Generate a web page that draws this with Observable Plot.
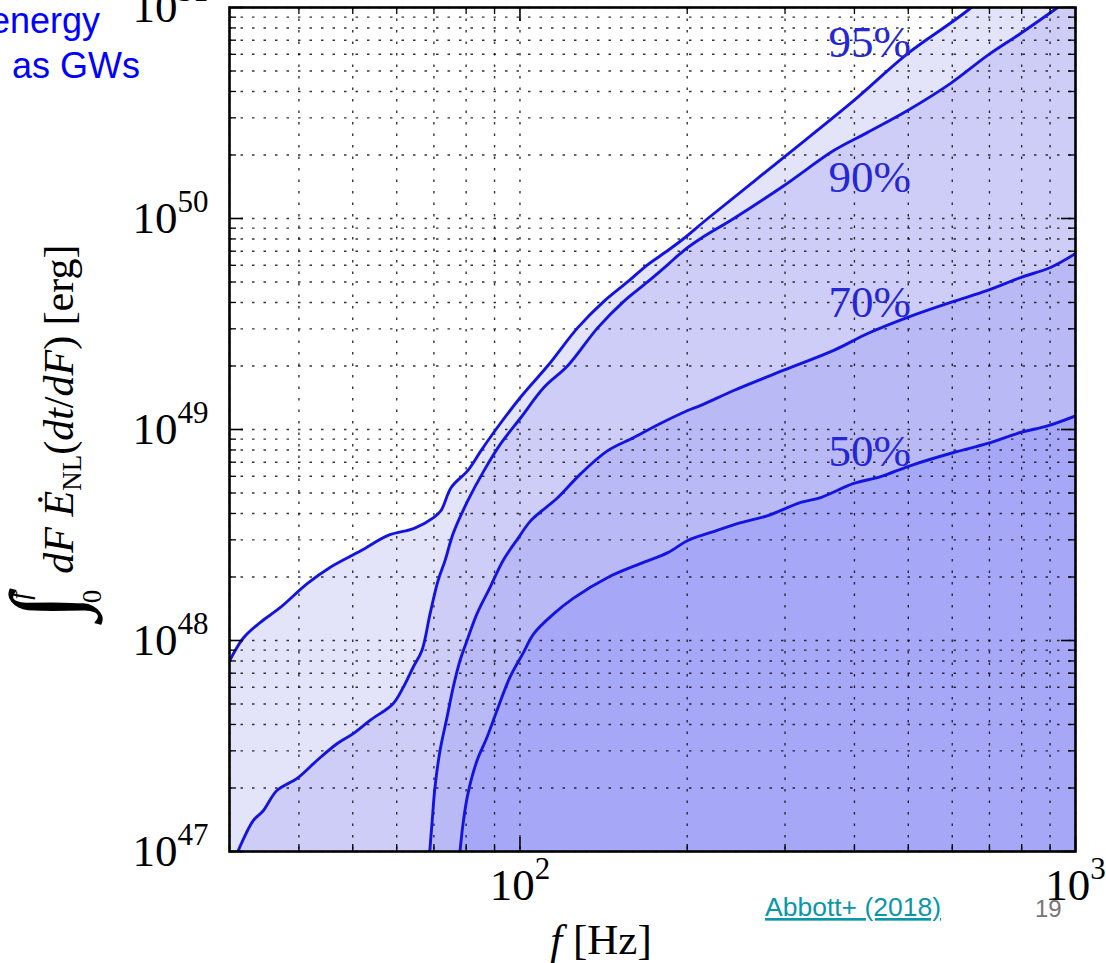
<!DOCTYPE html>
<html><head><meta charset="utf-8">
<script src="https://cdn.jsdelivr.net/npm/d3@7"></script>
<script src="https://cdn.jsdelivr.net/npm/@observablehq/plot@0.6"></script>
<style>
html,body{margin:0;padding:0;background:#fff;}
#chart{position:relative;width:1106px;height:963px;overflow:hidden;background:#fff;}
</style></head><body><div id="chart"></div>
<script>
// ---- data (f in Hz, E in erg) ----
const f95 = [30, 31.8, 34.1, 37.0, 41.4, 45.5, 51.8, 57.9, 64.5, 70.0, 72.1, 75.2, 80.6, 85.1, 90.5, 100.4, 112.3, 127.1, 141.6, 156.4, 169.9, 184.6, 197.2, 217.8, 298.5, 398.8, 498.7, 639.4, 1000];
const e95 = [8.0e47, 1.03e48, 1.22e48, 1.43e48, 1.86e48, 2.22e48, 2.67e48, 3.15e48, 3.40e48, 3.83e48, 4.13e48, 5.31e48, 6.40e48, 7.94e48, 1.0e49, 1.43e49, 2.01e49, 3.04e49, 4.05e49, 5.02e49, 6.05e49, 7.05e49, 8.04e49, 1.0e50, 1.95e50, 3.62e50, 6.05e50, 9.68e50, 2.6e51];

const f90 = [30.7, 33.1, 34.5, 36.55, 39.7, 43.1, 46.9, 50.1, 53.7, 59.1, 61.6, 64.2, 66.6, 68.9, 71.2, 73.3, 75.8, 80.6, 86.2, 92.4, 100.4, 110.4, 122.0, 138.1, 153.8, 169.9, 184.6, 197.2, 211.6, 242.6, 298.5, 367.1, 422.6, 498.7, 596, 694.7, 796.2, 912.9, 1000];
const e90 = [9.3e46, 1.40e47, 1.56e47, 1.95e47, 2.22e47, 2.70e47, 3.25e47, 3.62e47, 4.18e47, 5.02e47, 5.98e47, 7.45e47, 8.97e47, 1.34e48, 1.92e48, 2.39e48, 3.21e48, 4.61e48, 6.40e48, 8.59e48, 1.14e49, 1.58e49, 2.01e49, 3.04e49, 4.05e49, 5.02e49, 6.05e49, 7.05e49, 8.04e49, 1.0e50, 1.43e50, 2.10e50, 2.56e50, 3.25e50, 4.37e50, 5.93e50, 7.53e50, 9.68e50, 1.15e51];

const f70 = [68.6, 69.5, 70.3, 71.8, 73.9, 75.8, 78.0, 80.3, 83.7, 88.3, 93.2, 99.2, 104.7, 117.0, 128.7, 143.9, 160.3, 179.3, 200.5, 211.6, 242.6, 298.5, 367.1, 422.6, 498.7, 596, 694.7, 796.2, 901.6, 1000];
const e70 = [9.06e46, 1.40e47, 2.01e47, 3.01e47, 4.32e47, 5.98e47, 8.04e47, 1.0e48, 1.34e48, 1.78e48, 2.39e48, 3.05e48, 3.71e48, 4.76e48, 6.18e48, 7.94e48, 9.16e48, 1.07e49, 1.23e49, 1.30e49, 1.53e49, 1.91e49, 2.37e49, 2.85e49, 3.40e49, 4.00e49, 4.56e49, 5.25e49, 5.86e49, 6.82e49];

const f50 = [77.7, 79.0, 80.6, 83.7, 87.2, 90.9, 95.9, 101.2, 106.0, 115.1, 124.5, 143.9, 165.1, 184.6, 200.5, 220.6, 249.7, 279.3, 320.2, 347.8, 398.8, 446.0, 505, 603.5, 694.7, 796.2, 890.5, 1000];
const e50 = [9.06e46, 1.36e47, 1.88e47, 2.70e47, 3.47e47, 4.66e47, 6.68e47, 8.67e47, 1.08e48, 1.34e48, 1.58e48, 1.99e48, 2.32e48, 2.61e48, 2.98e48, 3.25e48, 3.62e48, 3.91e48, 4.51e48, 4.76e48, 5.55e48, 5.98e48, 6.75e48, 7.78e48, 8.59e48, 9.68e48, 1.04e49, 1.16e49];

const labelText = ["95%", "90%", "70%", "50%"];
const labelF = [426, 426, 426, 426];
const labelE = [6.8e50, 1.56e50, 4.0e49, 7.9e48];

const xMajor = [100, 1000];
const xTickExp = ["2", "3"];
const xMinor = [30, 40, 50, 60, 70, 80, 90, 200, 300, 400, 500, 600, 700, 800, 900];
const yMajor = [1e47, 1e48, 1e49, 1e50, 1e51];
const yTickExp = ["47", "48", "49", "50", "51"];
const yMinor = [2e47,3e47,4e47,5e47,6e47,7e47,8e47,9e47, 2e48,3e48,4e48,5e48,6e48,7e48,8e48,9e48, 2e49,3e49,4e49,5e49,6e49,7e49,8e49,9e49, 2e50,3e50,4e50,5e50,6e50,7e50,8e50,9e50];

// ---- styles ----
const C95 = "#e3e3fa", C90 = "#cdcdf8", C70 = "#b9b9f6", C50 = "#a7a7f7";
const LINE = "#1414e0", LABEL = "#2626d4";
const W = 1106, H = 963, ML = 229, MR = 31, MT = 7, MB = 112;
const FW = W - ML - MR, FH = H - MT - MB;
const SERIF = "'Liberation Serif', 'Times New Roman', serif";

const rows = (fs, es) => fs.map((f, i) => ({f, E: es[i]}));
const r95 = rows(f95, e95), r90 = rows(f90, e90), r70 = rows(f70, e70), r50 = rows(f50, e50);
const grid = {stroke: "#111", strokeDasharray: "2.5,9", strokeWidth: 1.4, strokeOpacity: 0.85};
const lineOpts = {x: "f", y: "E", stroke: LINE, strokeWidth: 2.9, clip: true, curve: "catmull-rom"};

const plot = Plot.plot({
  width: W, height: H,
  marginLeft: ML, marginRight: MR, marginTop: MT, marginBottom: MB,
  style: {fontFamily: SERIF, background: "#fff", overflow: "visible"},
  x: {type: "log", domain: [30, 1000]},
  y: {type: "log", domain: [1e47, 1e51]},
  marks: [
    Plot.areaY(r95, {x: "f", y1: 1e46, y2: "E", fill: C95, clip: true, curve: "catmull-rom"}),
    Plot.areaY(r90, {x: "f", y1: 1e46, y2: "E", fill: C90, clip: true, curve: "catmull-rom"}),
    Plot.areaY(r70, {x: "f", y1: 1e46, y2: "E", fill: C70, clip: true, curve: "catmull-rom"}),
    Plot.areaY(r50, {x: "f", y1: 1e46, y2: "E", fill: C50, clip: true, curve: "catmull-rom"}),
    Plot.ruleX(xMinor.concat(xMajor), grid),
    Plot.ruleY(yMinor.concat(yMajor), grid),
    Plot.line(r95, lineOpts),
    Plot.line(r90, lineOpts),
    Plot.line(r70, lineOpts),
    Plot.line(r50, lineOpts),
    Plot.text(labelText, {x: labelF, y: labelE, text: d => d, fill: LABEL, fontSize: 45, fontFamily: SERIF}),
    // inward ticks on all four sides
    Plot.tickX(xMajor, {insetTop: FH - 14, stroke: "#000", strokeWidth: 1.6}),
    Plot.tickX(xMajor, {insetBottom: FH - 14, stroke: "#000", strokeWidth: 1.6}),
    Plot.tickX(xMinor, {insetTop: FH - 7, stroke: "#000", strokeWidth: 1.3}),
    Plot.tickX(xMinor, {insetBottom: FH - 7, stroke: "#000", strokeWidth: 1.3}),
    Plot.tickY(yMajor, {insetRight: FW - 14, stroke: "#000", strokeWidth: 1.6}),
    Plot.tickY(yMajor, {insetLeft: FW - 14, stroke: "#000", strokeWidth: 1.6}),
    Plot.tickY(yMinor, {insetRight: FW - 7, stroke: "#000", strokeWidth: 1.3}),
    Plot.tickY(yMinor, {insetLeft: FW - 7, stroke: "#000", strokeWidth: 1.3}),
    Plot.frame({stroke: "#000", strokeWidth: 2.6}),
    Plot.axisX(xMajor, {tickSize: 0, tickPadding: 17, fontSize: 45, fontFamily: SERIF, label: null,
      tickFormat: d => "10^" + xTickExp[xMajor.indexOf(d)]}),
    Plot.axisY(yMajor, {tickSize: 0, tickPadding: 21, fontSize: 45, fontFamily: SERIF, label: null,
      tickFormat: d => "10^" + yTickExp[yMajor.indexOf(d)]})
  ]
});
document.getElementById("chart").appendChild(plot);
const svg = d3.select(plot);

// superscript exponents on tick labels
svg.selectAll("text").filter(function () { return /^10\^\d+$/.test(this.textContent); }).each(function () {
  const [b, e] = this.textContent.split("^");
  const t = d3.select(this);
  t.text(null);
  t.append("tspan").text(b);
  t.append("tspan").attr("font-size", 31).attr("dy", -21).text(e);
});

// y-axis label (math)
const yl = svg.append("text")
  .attr("transform", "translate(73,432) rotate(-90)")
  .attr("text-anchor", "middle")
  .attr("font-family", SERIF).attr("font-size", 42).attr("fill", "#000");
yl.append("tspan").attr("font-size", 96).attr("dy", 4).text("∫");
yl.append("tspan").attr("font-size", 27).attr("dx", -10).attr("dy", 24).text("0");
yl.append("tspan").attr("font-size", 27).attr("font-style", "italic").attr("dx", -10).attr("dy", -72).text("f");
yl.append("tspan").attr("font-style", "italic").attr("dx", 8).attr("dy", 44).text(" dF ");
yl.append("tspan").attr("font-style", "italic").text("Ė");
yl.append("tspan").attr("font-size", 27).attr("dy", 8).text("NL");
yl.append("tspan").attr("dy", -8).text("(");
yl.append("tspan").attr("font-style", "italic").text("dt");
yl.append("tspan").text("/");
yl.append("tspan").attr("font-style", "italic").text("dF");
yl.append("tspan").text(") [erg]");

// x-axis label
const xl = svg.append("text").attr("x", 601).attr("y", 954).attr("text-anchor", "middle")
  .attr("font-family", SERIF).attr("font-size", 43).attr("fill", "#000");
xl.append("tspan").attr("font-style", "italic").text("f");
xl.append("tspan").text(" [Hz]");

// slide texts
const SANS = "'Liberation Sans', Arial, sans-serif";
svg.append("text").attr("x", 100).attr("y", 33).attr("text-anchor", "end")
  .attr("font-family", SANS).attr("font-size", 36).attr("fill", "#0000ff").text("energy");
svg.append("text").attr("x", 140).attr("y", 78).attr("text-anchor", "end")
  .attr("font-family", SANS).attr("font-size", 36).attr("fill", "#0000ff").text("as GWs");
svg.append("text").attr("x", 765).attr("y", 916).attr("text-anchor", "start")
  .attr("font-family", SANS).attr("font-size", 26.5).attr("fill", "#0a97a8")
  .attr("text-decoration", "underline").text("Abbott+ (2018)");
svg.append("text").attr("x", 1035).attr("y", 917).attr("text-anchor", "start")
  .attr("font-family", SANS).attr("font-size", 24).attr("fill", "#777").text("19");
</script>
</body></html>
